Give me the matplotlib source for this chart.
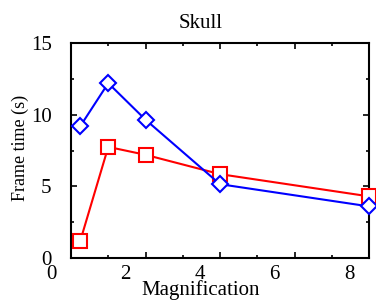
import matplotlib
matplotlib.use("Agg")
import matplotlib.pyplot as plt
import matplotlib.transforms as mtransforms

# magnification levels and frame times (s)
magnification = [0.25, 1, 2, 4, 8]
time_blue = [9.2, 12.2, 9.65, 5.15, 3.6]
time_red = [1.2, 7.75, 7.2, 5.85, 4.3]

x_ticks = [0, 2, 4, 6, 8]
x_minor = [1, 3, 5, 7]
y_ticks = [0, 5, 10, 15]
y_minor = [2.5, 7.5, 12.5]

plt.rcParams['font.family'] = ['Liberation Serif', 'DejaVu Serif']
plt.rcParams['font.size'] = 15

fig = plt.figure(figsize=(3.76, 3.08), dpi=100)
ax = fig.add_axes([71 / 376, 50 / 308, 298 / 376, 215 / 308])

ax.plot(magnification, time_red, color='red', lw=1.5, marker='s', ms=10,
        mfc='white', mec='red', mew=1.5, clip_on=False, zorder=3)
ax.plot(magnification, time_blue, color='blue', lw=1.5, marker='D', ms=8.5,
        mfc='white', mec='blue', mew=1.5, clip_on=False, zorder=4)

ax.set_xlim(0, 8)
ax.set_ylim(0, 15)
ax.set_xticks(x_ticks)
ax.set_xticks(x_minor, minor=True)
ax.set_yticks(y_ticks)
ax.set_yticks(y_minor, minor=True)

ax.tick_params(which='both', direction='in', top=True, right=True, width=1.2)
ax.tick_params(which='major', length=4, labelsize=15)
ax.tick_params(which='minor', length=2.5)
ax.tick_params(axis='y', which='major', pad=14)
ax.tick_params(axis='x', which='major', pad=5)

# left ticks show up red in the original
for t in ax.yaxis.get_major_ticks() + ax.yaxis.get_minor_ticks():
    t.tick1line.set_color('red')

# x tick labels sit ~20 px left of their ticks
shift = mtransforms.ScaledTranslation(-20 / 100, 0, fig.dpi_scale_trans)
for lbl in ax.get_xticklabels():
    lbl.set_transform(lbl.get_transform() + shift)

for sp in ax.spines.values():
    sp.set_linewidth(1.5)

ax.set_title('Skull', x=0.436, pad=11, fontsize=15)
ax.set_xlabel('Magnification')
ax.xaxis.label.set_va('center')
ax.xaxis.set_label_coords(0.436, -0.15)
ax.set_ylabel('Frame time (s)', fontsize=13)
ax.yaxis.label.set_va('center')
ax.yaxis.set_label_coords(-0.17, 0.51)

fig.savefig('out.png', dpi=100)
